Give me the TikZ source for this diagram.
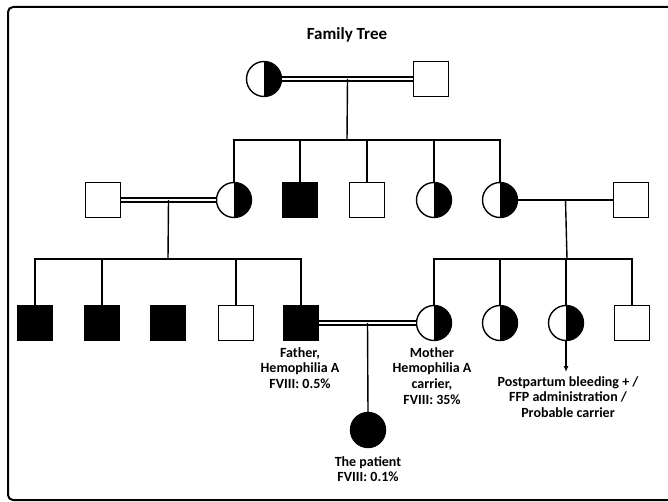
\documentclass[tikz,border=0pt]{standalone}
\usepackage{fontspec}
\setmainfont{Carlito}
\usetikzlibrary{arrows.meta,calc}

\begin{document}
\begin{tikzpicture}[x=1pt,y=-1pt,>=Latex,
 male/.style={draw,line width=1.4pt,minimum size=35pt,inner sep=0pt},
 female/.style={draw,circle,line width=1.4pt,minimum size=35pt,inner sep=0pt},
 aff/.style={fill=black},
 carr/.style={path picture={\fill[black] (path picture bounding box.north) rectangle (path picture bounding box.south east);}},
 lnk/.style={line width=1.4pt},
 mar/.style={double,line width=1.3pt,double distance=2.6pt},
 lab/.style={font=\bfseries\fontsize{14}{15.7}\selectfont,align=center,inner sep=0pt}]
\useasboundingbox (0,0) rectangle (668,502);
\draw[line width=2pt,rounded corners=5pt] (8,7) rectangle (680,500);
\node[lab,font=\bfseries\fontsize{17}{20}\selectfont] (title) at (347,35) {Family Tree};
% generation I
\node[female,carr] (g1f) at (264,79) {};
\node[male] (g1m) at (431,79) {};
\draw[mar] (g1f.east)--(g1m.west);
\coordinate (m1) at ($(g1f.east)!.5!(g1m.west)$);
\coordinate (s1) at (347,140);
\draw[lnk] (m1)--(s1);
% generation II
\node[male] (g2h) at (103,200) {};
\node[female,carr] (g2a) at (234,200) {};
\node[male,aff] (g2b) at (300,200) {};
\node[male] (g2c) at (367,200) {};
\node[female,carr] (g2d) at (434,200) {};
\node[female,carr] (g2e) at (500,200) {};
\node[male] (g2k) at (631,200) {};
\draw[lnk] (g2a.north)|-(s1)-|(g2e.north);
\foreach \n in {g2b,g2c,g2d} \draw[lnk] (\n.north)--(\n.north|-s1);
\draw[mar] (g2h.east)--(g2a.west);
\draw[lnk] (g2e.east)--(g2k.west);
\coordinate (m2) at ($(g2h.east)!.5!(g2a.west)$);
\coordinate (m3) at ($(g2e.east)!.5!(g2k.west)$);
\coordinate (s2) at (168,259);
\coordinate (s3) at (567,259);
\draw[lnk] (m2)--(s2);
\draw[lnk] (m3)--(s3);
% generation III
\node[male,aff] (g3a) at (35,323) {};
\node[male,aff] (g3b) at (102,323) {};
\node[male,aff] (g3c) at (168,323) {};
\node[male] (g3d) at (236,323) {};
\node[male,aff] (fa) at (301,323) {};
\node[female,carr] (mo) at (434,323) {};
\node[female,carr] (g3g) at (500,323) {};
\node[female,carr] (g3h) at (566,323) {};
\node[male] (g3i) at (632,323) {};
\draw[lnk] (g3a.north)|-(s2)-|(fa.north);
\foreach \n in {g3b,g3d} \draw[lnk] (\n.north)--(\n.north|-s2);
\draw[lnk] (mo.north)|-(s3)-|(g3i.north);
\foreach \n in {g3g,g3h} \draw[lnk] (\n.north)--(\n.north|-s3);
\draw[mar] (fa.east)--(mo.west);
\coordinate (m4) at ($(fa.east)!.5!(mo.west)$);
% generation IV
\node[female,aff] (pt) at (368,430) {};
\draw[lnk] (m4)--(pt.north);
\coordinate (ar) at (566,372);
\draw[lnk,-{Latex[length=6pt,width=5pt]}] (g3h.south)--(ar);
% labels
\node[lab,anchor=north] (lfa) at (300,347) {Father,\\Hemophilia A\\FVIII: 0.5\%};
\node[lab,anchor=north] (lmo) at (432,347) {Mother\\Hemophilia A\\carrier,\\FVIII: 35\%};
\node[lab,anchor=north] (lpp) at (568,376) {Postpartum bleeding + /\\FFP administration /\\Probable carrier};
\node[lab,anchor=north] (lpt) at (368,456) {The patient\\FVIII: 0.1\%};
\end{tikzpicture}
\end{document}
